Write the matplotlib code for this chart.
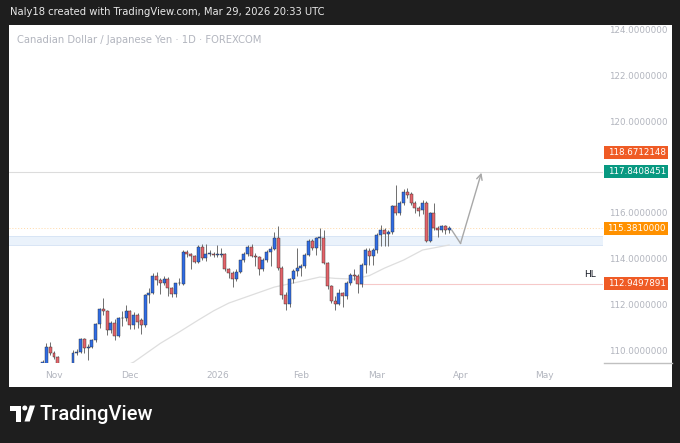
import numpy as np
import pandas as pd
import matplotlib.pyplot as plt
from matplotlib.patches import Rectangle, Polygon, Circle
import matplotlib.transforms as mtransforms

# CADJPY daily candles
opens = [109.45, 109.30, 110.19, 109.93, 109.75, 109.45, 109.25, 109.15, 109.40, 109.93,
         109.97, 110.52, 110.12, 110.19, 110.48, 111.18, 111.85, 111.76, 110.92, 111.21,
         110.66, 111.43, 111.46, 111.75, 111.14, 111.57, 111.36, 111.14, 112.45, 112.54,
         113.28, 113.11, 112.99, 113.15, 112.76, 112.49, 112.97, 112.93, 114.34, 114.24,
         114.16, 113.91, 114.56, 114.06, 114.24, 114.24, 114.22, 114.22, 114.24, 113.57,
         113.43, 113.14, 113.47, 113.98, 114.25, 114.56, 114.16, 114.10, 113.57, 113.98,
         114.32, 114.45, 114.93, 113.62, 112.45, 112.08, 113.15, 113.52, 113.62, 113.72,
         114.22, 114.80, 114.50, 114.94, 114.96, 113.87, 112.84, 112.19, 112.08, 112.56,
         112.40, 113.00, 113.32, 113.30, 112.93, 113.76, 114.37, 114.16, 114.42, 115.07,
         115.29, 115.12, 115.22, 116.34, 116.05, 116.46, 116.97, 116.86, 116.49, 116.24,
         116.17, 116.49, 114.83, 116.05, 115.37, 115.30, 115.45, 115.30]
highs = [109.60, 110.36, 110.38, 110.00, 109.80, 109.45, 109.40, 109.45, 110.04, 110.10,
         110.58, 110.56, 110.30, 110.55, 111.25, 111.90, 112.31, 111.80, 111.30, 111.40,
         111.50, 111.75, 112.01, 111.80, 111.70, 111.65, 111.45, 112.50, 112.76, 113.40,
         113.45, 113.20, 113.30, 113.25, 112.80, 113.00, 113.20, 114.40, 114.40, 114.30,
         114.20, 114.65, 114.70, 114.70, 114.40, 114.35, 114.65, 114.50, 114.30, 113.65,
         113.50, 113.60, 114.00, 114.35, 114.65, 114.70, 114.30, 114.15, 114.05, 114.40,
         114.60, 115.20, 115.47, 113.70, 112.60, 113.20, 113.60, 114.50, 113.80, 114.30,
         114.90, 114.90, 115.00, 115.37, 115.30, 113.90, 112.90, 112.40, 112.70, 112.60,
         113.05, 113.40, 113.60, 113.35, 113.85, 114.50, 114.50, 114.50, 115.15, 115.50,
         115.40, 115.30, 116.40, 117.26, 116.55, 117.10, 117.15, 116.95, 116.55, 116.35,
         116.60, 116.55, 116.10, 116.47, 115.45, 115.50, 115.50, 115.45]
lows = [109.30, 109.20, 109.85, 109.65, 109.30, 109.10, 109.00, 109.05, 109.35, 109.85,
        109.90, 109.91, 109.60, 110.15, 110.40, 111.00, 111.60, 110.70, 110.80, 110.48,
        110.60, 111.10, 111.30, 110.95, 110.95, 111.00, 110.75, 111.05, 112.10, 112.50,
        112.90, 112.50, 112.90, 112.40, 112.35, 112.35, 112.90, 112.90, 114.10, 113.60,
        113.85, 113.85, 114.00, 113.95, 114.15, 114.12, 114.10, 114.10, 113.50, 113.20,
        112.81, 113.05, 113.40, 113.90, 114.15, 114.10, 113.70, 113.32, 113.50, 113.90,
        113.70, 114.40, 113.55, 112.30, 111.79, 111.95, 113.00, 113.30, 113.30, 113.65,
        114.15, 114.40, 114.20, 114.40, 113.80, 112.70, 112.10, 111.79, 112.00, 111.94,
        112.30, 112.90, 113.10, 112.55, 112.80, 113.40, 113.75, 113.75, 114.30, 114.60,
        114.60, 114.60, 115.10, 115.95, 115.95, 116.40, 116.70, 116.40, 116.05, 115.90,
        116.00, 114.75, 114.75, 115.30, 115.00, 115.20, 115.10, 115.15]
closes = [109.52, 110.19, 109.93, 109.75, 109.45, 109.25, 109.15, 109.40, 109.93, 109.97,
          110.52, 110.12, 110.19, 110.48, 111.18, 111.85, 111.76, 110.92, 111.21, 110.66,
          111.43, 111.46, 111.75, 111.14, 111.57, 111.28, 111.14, 112.45, 112.54, 113.28,
          113.11, 112.99, 113.15, 112.76, 112.49, 112.97, 112.99, 114.34, 114.24, 114.16,
          113.91, 114.56, 114.06, 114.24, 114.24, 114.22, 114.22, 114.24, 113.57, 113.43,
          113.14, 113.47, 113.98, 114.25, 114.56, 114.16, 114.10, 113.57, 113.98, 114.32,
          114.45, 114.93, 113.62, 112.45, 112.08, 113.15, 113.52, 113.62, 113.72, 114.22,
          114.80, 114.50, 114.94, 114.96, 113.87, 112.84, 112.19, 112.08, 112.56, 112.40,
          113.00, 113.32, 113.30, 112.93, 113.76, 114.42, 114.16, 114.42, 115.07, 115.29,
          115.12, 115.22, 116.34, 116.05, 116.46, 116.97, 116.82, 116.49, 116.24, 116.13,
          116.46, 114.83, 116.05, 115.37, 115.30, 115.45, 115.30, 115.381]

dates = pd.bdate_range(end='2026-03-27', periods=len(closes))
all_dates = pd.bdate_range(start=dates[0], end='2026-05-29')

# moving average
ma_dates = ['2025-11-21', '2025-12-02', '2025-12-11', '2025-12-18', '2025-12-25', '2025-12-31',
            '2026-01-06', '2026-01-14', '2026-01-22', '2026-02-02', '2026-02-09', '2026-02-13',
            '2026-02-20', '2026-02-26', '2026-03-04', '2026-03-11', '2026-03-18', '2026-03-27']
ma_values = [109.0, 109.52, 110.34, 110.84, 111.36, 111.76, 112.10, 112.45, 112.80, 113.05,
             113.24, 113.18, 113.15, 113.30, 113.63, 113.98, 114.42, 114.64]

# drawings
resistance = 117.8408451
target_label = 118.6712148
zone = (114.64, 115.03)
hl_level = 112.9497891
hl_start = '2026-02-23'
arrow_bars = [0.7, 3.0, 8.5]          # bars after the last candle
arrow_prices = [115.29, 114.71, 117.80]

price_ticks = [110, 112, 114, 116, 120, 122, 124]
month_labels = ['Nov', 'Dec', '2026', 'Feb', 'Mar', 'Apr', 'May']

W, H = 680, 443
fig = plt.figure(figsize=(W / 100, H / 100), dpi=100)
fig.patch.set_facecolor('#1e1e1e')

def fx(px):
    return px / W

def fy(py):
    return 1 - py / H

# white panel
fig.patches.append(Rectangle((fx(9), fy(387)), fx(672) - fx(9), fy(25) - fy(387),
                             transform=fig.transFigure, facecolor='white', edgecolor='none', zorder=-5))

ax = fig.add_axes([fx(9), fy(363), fx(603) - fx(9), fy(25) - fy(363)], zorder=2)
ax.set_facecolor('none')
for s in ax.spines.values():
    s.set_visible(False)
ax.set_xticks([])
ax.set_yticks([])
ylo, yhi = 109.48, 124.26
ax.set_ylim(ylo, yhi)
ax.set_xlim(-8.84, 147.5)

x = np.arange(len(closes))
o = np.array(opens); c = np.array(closes); h = np.array(highs); l = np.array(lows)
up = c >= o
col = np.where(up, '#2f6ce5', '#e4636a')

# zone and lines
ax.axhspan(zone[0], zone[1], color='#eaf2fb', zorder=1, lw=0)
ax.axhline(zone[0], color='#d8e5f5', lw=0.7, zorder=1)
ax.axhline(zone[1], color='#d8e5f5', lw=0.7, zorder=1)
ax.axhline(resistance, color='#dcdcdc', lw=0.8, zorder=1)
ax.axhline(closes[-1], color='#ffd9a8', lw=0.7, ls=(0, (1, 2)), zorder=1)
hl_x = dates.get_loc(pd.Timestamp(hl_start))
ax.plot([hl_x, 160], [hl_level, hl_level], color='#f6c9c9', lw=0.8, zorder=1)

# moving average
ma_x = [dates.get_loc(pd.Timestamp(d)) for d in ma_dates]
ax.plot(ma_x, ma_values, color='#dedede', lw=0.9, zorder=2)

# candles
ax.vlines(x, l, h, color='#6e6e6e', lw=0.7, zorder=3)
ax.bar(x, np.maximum(np.abs(c - o), 0.03), bottom=np.minimum(o, c), width=0.78,
       color=col, edgecolor='#2b2b2b', linewidth=0.3, zorder=4)

# forecast arrow
ax_x = [x[-1] + b for b in arrow_bars]
ax.plot(ax_x[:2], arrow_prices[:2], color='#a8a8a8', lw=1.0, zorder=5)
ax.annotate('', xy=(ax_x[2], arrow_prices[2]), xytext=(ax_x[1], arrow_prices[1]),
            arrowprops=dict(arrowstyle='->', color='#a8a8a8', lw=1.0,
                            mutation_scale=10, shrinkA=0, shrinkB=0), zorder=5)

# price scale
tr = mtransforms.blended_transform_factory(fig.transFigure, ax.transData)
for p in price_ticks:
    fig.text(fx(668), p, f'{p:.7f}', transform=tr, ha='right', va='center',
             fontsize=6.3, color='#b2b5be')
box_h = 6.5 / (H * (fy(25) - fy(363))) * (yhi - ylo)
boxes = [(target_label, '#ef5b25'), (resistance, '#089981'),
         (closes[-1], '#ff9100'), (hl_level, '#ef5b25')]
for val, bc in boxes:
    fig.patches.append(Rectangle((fx(604), val - box_h), fx(668) - fx(604), 2 * box_h,
                                 transform=tr, facecolor=bc, edgecolor='none', zorder=1))
    fig.text(fx(666), val, f'{val:.7f}', transform=tr, ha='right', va='center',
             fontsize=6.3, color='white', zorder=3)
fig.text(fx(596), hl_level + 0.4, 'HL', transform=tr, ha='right', va='center',
         fontsize=6.5, color='#131722')
fig.lines.append(plt.Line2D([fx(604), fx(672)], [fy(363), fy(363)], transform=fig.transFigure,
                            color='#c0c0c0', lw=1.0))

# time scale
month_starts = all_dates.to_series().groupby([all_dates.year, all_dates.month]).first()
trx = mtransforms.blended_transform_factory(ax.transData, fig.transFigure)
for lab, d in zip(month_labels, month_starts.values[1:]):
    fig.text(all_dates.get_loc(pd.Timestamp(d)), fy(376), lab, transform=trx,
             ha='center', va='center', fontsize=6.5, color='#b2b5be')

# header / title
fig.text(fx(10), fy(12), 'Naly18 created with TradingView.com, Mar 29, 2026 20:33 UTC',
         ha='left', va='center', fontsize=7.2, color='#e8e8e8')
fig.text(fx(17), fy(40), 'Canadian Dollar / Japanese Yen · 1D · FOREXCOM',
         ha='left', va='center', fontsize=7.2, color='#b2b5be')

# logo
lax = fig.add_axes([fx(8), fy(425), fx(160) - fx(8), fy(402) - fy(425)])
lax.set_xlim(8, 160)
lax.set_ylim(425, 402)
lax.axis('off')
lax.add_patch(Polygon([(10, 405.5), (21, 405.5), (21, 421.5), (15.5, 421.5), (15.5, 410.5), (10, 410.5)],
                      closed=True, facecolor='white', edgecolor='none'))
lax.add_patch(Circle((24.8, 408.0), 2.5, facecolor='white', edgecolor='none'))
lax.add_patch(Polygon([(24.5, 421.5), (29.8, 405.5), (35, 405.5), (29.7, 421.5)],
                      closed=True, facecolor='white', edgecolor='none'))
lax.text(39, 414, 'TradingView', ha='left', va='center', fontsize=14.5,
         color='white', fontfamily='Roboto', fontweight='medium')

fig.savefig('out.png', dpi=100, facecolor=fig.get_facecolor())
